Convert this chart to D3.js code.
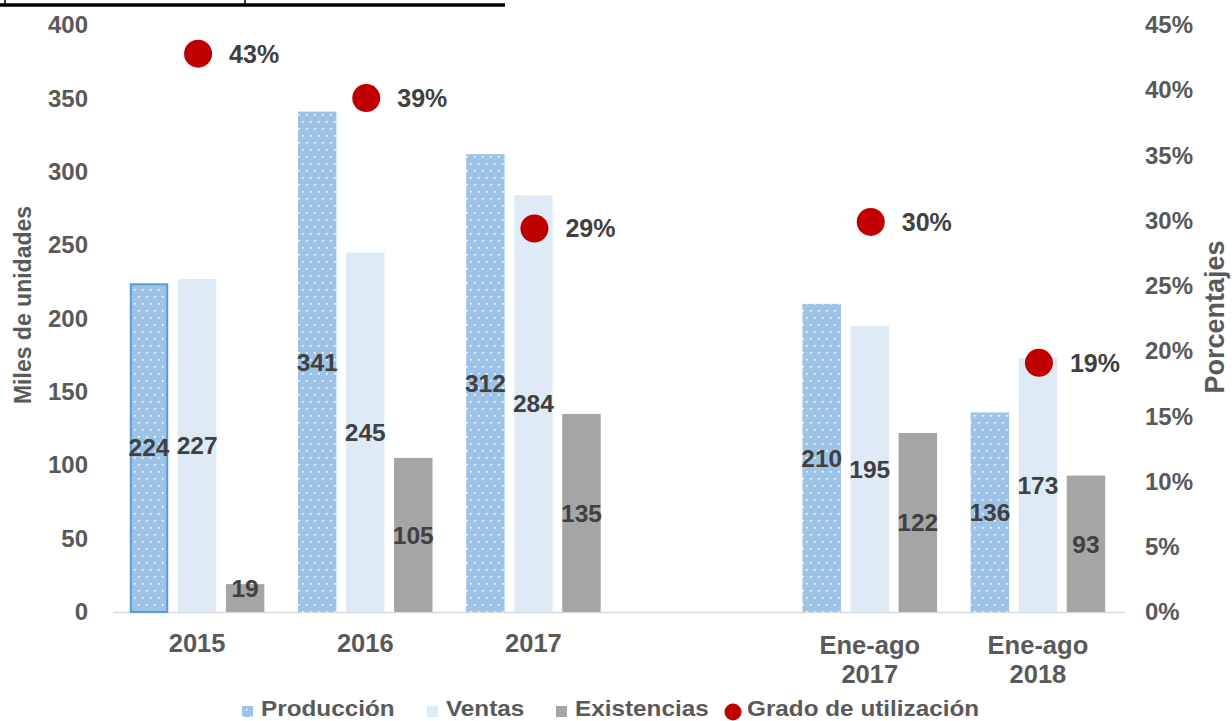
<!DOCTYPE html>
<html>
<head>
<meta charset="utf-8">
<script src="https://cdn.jsdelivr.net/npm/d3@7"></script>
<style>
  html, body { margin: 0; padding: 0; background: #fff; }
  svg { display: block; font-family: "Liberation Sans", Arial, sans-serif; font-weight: bold; }
</style>
</head>
<body>
<svg id="chart" width="1232" height="721"></svg>
<script>
const categories = ["2015", "2016", "2017", "", "Ene-ago 2017", "Ene-ago 2018"];
const produccion = [224, 341, 312, null, 210, 136];
const ventas = [227, 245, 284, null, 195, 173];
const existencias = [19, 105, 135, null, 122, 93];
const utilizacion = [42.8, 39.4, 29.4, null, 29.9, 19.1];
const leftTicks = [0, 50, 100, 150, 200, 250, 300, 350, 400];
const rightTicks = [0, 5, 10, 15, 20, 25, 30, 35, 40, 45];
const seriesNames = ["Producción", "Ventas", "Existencias"];
const legendNames = ["Producción", "Ventas", "Existencias", "Grado de utilización"];

const svg = d3.select("#chart");
const plotLeft = 113, plotRight = 1122, plotTop = 25, plotBottom = 612;

const defs = svg.append("defs");
const pat = defs.append("pattern").attr("id", "dots")
  .attr("patternUnits", "userSpaceOnUse").attr("width", 8).attr("height", 14);
pat.append("rect").attr("width", 8).attr("height", 14).attr("fill", "#9DC3E6");
pat.append("rect").attr("x", 2).attr("y", 2).attr("width", 1.6).attr("height", 1.6).attr("fill", "#ffffff");
pat.append("rect").attr("x", 6).attr("y", 9).attr("width", 1.6).attr("height", 1.6).attr("fill", "#ffffff");

const x0 = d3.scaleBand().domain(categories.map((c, i) => i)).range([plotLeft, plotRight])
  .paddingInner(0.2).paddingOuter(0.1);
const x1 = d3.scaleBand().domain(seriesNames).range([0, x0.bandwidth()]).paddingInner(0.2);
const y = d3.scaleLinear().domain([0, 400]).range([plotBottom, plotTop]);
const y2 = d3.scaleLinear().domain([0, 45]).range([plotBottom, plotTop]);

// top frame line (cropped header)
svg.append("line").attr("x1", 0).attr("x2", 505).attr("y1", 5).attr("y2", 5)
  .attr("stroke", "#000").attr("stroke-width", 3.5);
svg.append("line").attr("x1", 5).attr("x2", 5).attr("y1", 0).attr("y2", 5).attr("stroke", "#000").attr("stroke-width", 1.5);
svg.append("line").attr("x1", 245).attr("x2", 245).attr("y1", 0).attr("y2", 5).attr("stroke", "#000").attr("stroke-width", 1.5);

// axis baseline
svg.append("line").attr("x1", plotLeft).attr("x2", plotRight + 3).attr("y1", plotBottom + 0.5).attr("y2", plotBottom + 0.5)
  .attr("stroke", "#D9D9D9").attr("stroke-width", 1.5);

// left axis
const yAxis = d3.axisLeft(y).tickValues(leftTicks).tickSize(0).tickPadding(0);
const gy = svg.append("g").attr("transform", "translate(88,0)").call(yAxis);
gy.select(".domain").remove();
gy.selectAll("text").attr("font-size", 24).attr("fill", "#595959").attr("font-family", "Liberation Sans, Arial, sans-serif").attr("font-weight", "bold");

// right axis
const yAxis2 = d3.axisRight(y2).tickValues(rightTicks).tickSize(0).tickPadding(0).tickFormat(d => d + "%");
const gy2 = svg.append("g").attr("transform", "translate(1145,0)").call(yAxis2);
gy2.select(".domain").remove();
gy2.selectAll("text").attr("font-size", 24).attr("fill", "#595959").attr("font-family", "Liberation Sans, Arial, sans-serif").attr("font-weight", "bold");

// axis titles
svg.append("text").attr("transform", "translate(31,305) rotate(-90)").attr("text-anchor", "middle")
  .attr("font-size", 23).attr("fill", "#595959").text("Miles de unidades");
svg.append("text").attr("transform", "translate(1224,317) rotate(-90)").attr("text-anchor", "middle")
  .attr("font-size", 27).attr("fill", "#595959").text("Porcentajes");

// category labels
categories.forEach((c, i) => {
  if (!c) return;
  const cx = x0(i) + x0.bandwidth() / 2;
  const parts = c.split(" ");
  const t = svg.append("text").attr("text-anchor", "middle").attr("font-size", 25.5).attr("fill", "#595959");
  if (parts.length === 1) {
    t.append("tspan").attr("x", cx).attr("y", 652).text(parts[0]);
  } else {
    t.append("tspan").attr("x", cx).attr("y", 654).text(parts[0]);
    t.append("tspan").attr("x", cx).attr("y", 683).text(parts[1]);
  }
});

// bars
const seriesData = { "Producción": produccion, "Ventas": ventas, "Existencias": existencias };
const fills = { "Producción": "url(#dots)", "Ventas": "#DEEBF7", "Existencias": "#A5A5A5" };
seriesNames.forEach(s => {
  seriesData[s].forEach((v, i) => {
    if (v == null) return;
    const bx = x0(i) + x1(s);
    const r = svg.append("rect").attr("x", bx).attr("y", y(v)).attr("width", x1.bandwidth())
      .attr("height", y(0) - y(v)).attr("fill", fills[s]);
    if (s === "Producción" && i === 0) {
      r.attr("stroke", "#5B9BD5").attr("stroke-width", 2)
        .attr("x", bx + 1).attr("width", x1.bandwidth() - 2).attr("y", y(v) + 1).attr("height", y(0) - y(v) - 1);
    }
  });
});

// bar labels
seriesNames.forEach(s => {
  seriesData[s].forEach((v, i) => {
    if (v == null) return;
    const cx = x0(i) + x1(s) + x1.bandwidth() / 2;
    const cy = Math.min((y(v) + y(0)) / 2, y(0) - 24);
    svg.append("text").attr("x", cx).attr("y", cy).attr("dy", "0.36em").attr("text-anchor", "middle")
      .attr("font-size", 24.5).attr("fill", "#404040").text(v);
  });
});

// utilization dots
utilizacion.forEach((v, i) => {
  if (v == null) return;
  const cx = x0(i) + x0.bandwidth() / 2 + 1;
  svg.append("circle").attr("cx", cx).attr("cy", y2(v)).attr("r", 14).attr("fill", "#C00000");
  svg.append("text").attr("x", cx + 31).attr("y", y2(v)).attr("dy", "0.36em")
    .attr("font-size", 25).attr("fill", "#404040").text(Math.round(v) + "%");
});

// legend
const legX = [242, 427, 556, 725];
const legend = svg.append("g");
legendNames.forEach((n, k) => {
  const lx = legX[k];
  if (k < 3) {
    legend.append("rect").attr("x", lx).attr("y", 706).attr("width", 11).attr("height", 11)
      .attr("fill", [ "url(#dots)", "#DEEBF7", "#A5A5A5"][k]);
  } else {
    legend.append("circle").attr("cx", lx + 8).attr("cy", 712).attr("r", 8.5).attr("fill", "#C00000");
  }
  const tx = lx + (k < 3 ? 19 : 22);
  legend.append("text").attr("transform", `translate(${tx},716) scale(1.13,1)`).attr("font-size", 21.5)
    .attr("fill", "#595959").text(n);
});
</script>
</body>
</html>
